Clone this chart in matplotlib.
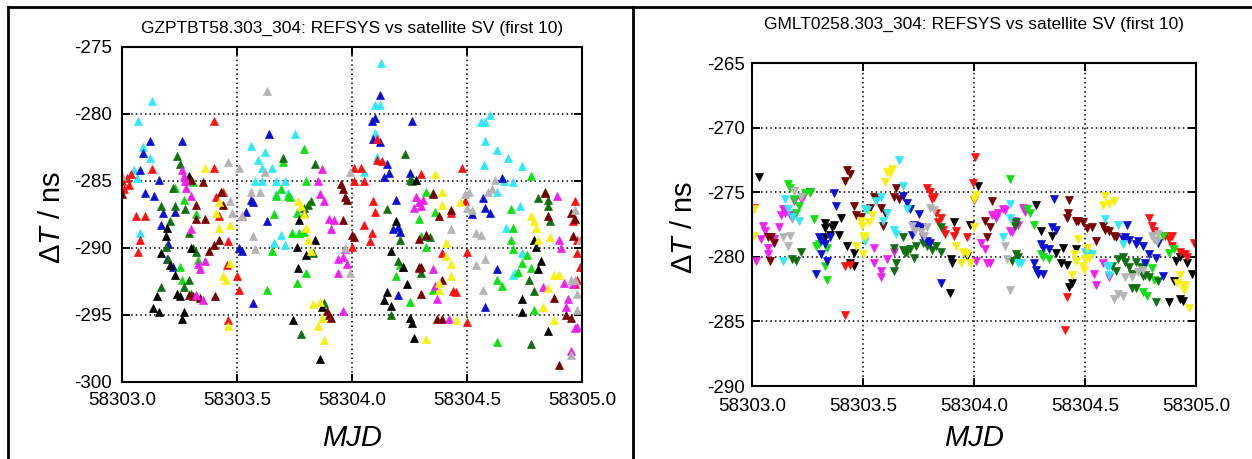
import matplotlib
matplotlib.use("Agg")
import matplotlib.pyplot as plt
from matplotlib import ticker
from matplotlib.lines import Line2D

plt.rcParams["font.family"] = ["Liberation Sans", "DejaVu Sans"]
plt.rcParams["mathtext.fontset"] = "custom"
plt.rcParams["mathtext.rm"] = "Liberation Sans"
plt.rcParams["mathtext.it"] = "Liberation Sans:italic"

MJD0 = 58303.0  # time values below are days since MJD0

# ---------------- GZPTBT58 (left panel), REFSYS per satellite ----------------
gz_cyan_t = [0.13, 0.07, 0.09, 0.12, 0.05, 0.065, 0.08, 0.56, 0.59, 0.62, 0.61, 0.65, 0.58, 0.61, 0.67,
             0.75, 0.71, 0.72, 0.67, 0.69, 0.66, 0.71, 1.11, 1.10, 1.12, 1.125, 1.10, 1.05, 1.56, 1.58,
             1.60, 1.58, 1.63, 1.68, 1.575, 1.74, 1.66, 1.70, 1.63, 1.67, 1.73, 1.70, 1.71, 1.74]
gz_cyan_y = [-279.0, -280.5, -282.5, -283.3, -284.2, -284.8, -288.9, -282.4, -283.4, -282.8, -284.0, -284.0,
             -285.0, -285.0, -285.0, -281.5, -285.0, -285.9, -286.0, -289.0, -289.6, -289.8, -283.2, -279.3,
             -279.3, -276.2, -281.4, -284.3, -280.6, -280.6, -280.1, -282.0, -282.7, -283.3, -283.8, -283.9,
             -285.0, -285.1, -285.8, -288.5, -286.9, -292.0, -291.9, -290.4]

gz_blue_t = [0.08, 0.09, 0.12, 0.10, 0.14, 0.16, 0.18, 0.17, 0.20, 0.195, 0.22, 0.26, 0.23, 0.51, 0.52,
             0.57, 0.54, 0.56, 0.57, 0.63, 0.64, 1.085, 1.10, 1.09, 1.12, 1.12, 1.15, 1.16, 1.14, 1.26,
             1.25, 1.18, 1.20, 1.21, 1.20, 1.19, 1.52, 1.58, 1.60, 1.63, 1.58, 1.65, 1.57]
gz_blue_y = [-284.2, -282.9, -282.0, -285.9, -286.1, -284.9, -287.4, -288.3, -289.7, -290.8, -291.4, -282.0,
             -287.3, -290.0, -290.2, -294.1, -287.3, -286.4, -286.6, -288.0, -281.5, -280.5, -280.3, -281.9,
             -278.6, -282.1, -283.7, -284.4, -284.7, -280.5, -284.4, -288.6, -288.4, -288.8, -293.5, -286.4,
             -287.5, -287.0, -287.4, -291.6, -294.4, -284.8, -286.3]

gz_red_t = [0.0, 0.02, 0.03, 0.04, 0.01, 0.06, 0.10, 0.08, 0.07, 0.13, 0.40, 0.40, 0.41, 0.42, 0.44,
            0.46, 0.455, 0.50, 0.51, 0.52, 0.46, 1.01, 1.04, 1.01, 1.05, 1.00, 1.05, 1.085, 1.08, 1.09,
            1.10, 1.11, 1.13, 1.11, 1.30, 1.48, 1.49, 1.50, 1.50, 1.43, 1.39, 1.44, 1.45, 1.97, 1.98,
            1.99, 1.98, 1.97, 1.98, 1.96]
gz_red_y = [-285.0, -284.8, -285.3, -284.5, -285.6, -287.6, -287.6, -289.4, -290.3, -284.1, -280.5, -284.0,
            -286.2, -287.6, -285.8, -289.5, -291.3, -292.1, -293.1, -287.6, -295.4, -284.0, -284.0, -285.0,
            -285.0, -289.9, -288.3, -288.9, -289.5, -286.5, -287.3, -283.4, -283.5, -281.9, -284.5, -284.0,
            -286.5, -290.3, -295.5, -287.4, -290.4, -293.2, -293.3, -286.5, -289.4, -291.4, -292.4, -292.7,
            -290.4, -288.0]

gz_lime_t = [0.23, 0.27, 0.25, 0.26, 0.31, 0.32, 0.33, 0.63, 0.66, 0.67, 0.69, 0.72, 0.73, 0.70, 0.74,
             0.76, 0.77, 0.79, 0.79, 0.80, 0.76, 0.65, 0.80, 1.19, 1.21, 1.29, 1.30, 1.32, 1.32, 1.25,
             1.36, 1.35, 1.63, 1.63, 1.65, 1.69, 1.70, 1.70, 1.76, 1.74, 1.78, 1.78, 1.69, 1.79, 1.72]
gz_lime_y = [-285.5, -286.4, -291.4, -292.4, -285.1, -287.5, -290.9, -293.1, -287.5, -286.1, -285.6, -286.1,
             -286.2, -283.6, -288.9, -287.4, -288.9, -288.8, -282.6, -285.0, -292.6, -290.2, -291.9, -292.1,
             -291.3, -287.8, -289.1, -289.9, -285.8, -294.0, -287.3, -293.1, -297.0, -292.4, -292.8, -289.4,
             -290.1, -288.5, -290.5, -291.1, -291.5, -284.6, -287.1, -294.6, -291.8]

gz_dkgreen_t = [0.24, 0.25, 0.22, 0.23, 0.21, 0.17, 0.19, 0.20, 0.17, 0.275, 0.29, 0.31, 0.32, 0.29, 0.27,
                0.30, 0.70, 0.79, 0.81, 0.82, 0.84, 0.83, 0.78, 0.88, 0.79, 1.15, 1.23, 1.25, 1.26, 1.21,
                1.22, 1.20, 1.17, 1.29, 1.30, 1.32, 1.34, 1.35, 1.77, 1.79, 1.81, 1.84, 1.85, 1.86, 1.78,
                1.85]
gz_dkgreen_y = [-283.1, -283.7, -285.5, -286.9, -288.0, -286.9, -289.9, -290.8, -292.9, -287.1, -288.9,
                -290.0, -290.3, -292.4, -292.9, -293.4, -283.3, -287.0, -286.8, -286.5, -283.7, -290.4,
                -296.4, -294.1, -287.4, -287.1, -283.0, -284.9, -285.0, -289.4, -291.4, -291.0, -295.0,
                -291.4, -291.9, -289.1, -289.2, -285.9, -292.4, -293.2, -286.3, -285.8, -286.4, -288.0,
                -297.2, -286.9]

gz_black_t = [0.15, 0.135, 0.16, 0.17, 0.19, 0.195, 0.21, 0.23, 0.24, 0.25, 0.26, 0.27, 0.29, 0.30, 0.765,
              0.745, 0.77, 0.76, 0.84, 0.86, 0.87, 0.80, 1.17, 1.14, 1.15, 1.17, 1.19, 1.22, 1.24, 1.25,
              1.26, 1.27, 1.28, 1.79, 1.80, 1.82, 1.74, 1.74, 1.85, 1.81]
gz_black_y = [-293.6, -294.5, -294.8, -290.4, -289.1, -288.5, -291.3, -292.0, -293.4, -293.6, -295.3, -294.8,
              -284.6, -290.0, -291.5, -295.4, -287.9, -289.9, -289.4, -298.3, -294.4, -290.5, -290.2, -293.9,
              -293.3, -294.3, -288.0, -291.4, -292.7, -295.2, -295.6, -296.7, -284.9, -289.4, -289.9, -291.0,
              -293.8, -294.8, -296.2, -291.6]

gz_dkred_t = [0.0, 0.30, 0.32, 0.35, 0.36, 0.32, 0.29, 0.31, 0.34, 0.405, 0.38, 0.40, 0.43, 0.44, 0.42,
              0.95, 0.96, 0.97, 0.98, 0.96, 1.00, 1.01, 0.90, 0.89, 0.91, 1.29, 1.32, 1.30, 1.29, 1.30,
              1.35, 1.38, 1.39, 1.37, 1.39, 1.43, 1.95, 1.96, 1.97, 1.90, 1.93, 1.88, 1.95, 1.84, 1.85]
gz_dkred_y = [-286.0, -284.9, -286.8, -285.1, -287.8, -287.8, -293.5, -293.6, -293.7, -293.6, -290.2, -289.8,
              -285.8, -286.8, -289.4, -285.2, -285.6, -286.2, -286.4, -287.9, -289.0, -289.2, -295.0, -294.7,
              -295.2, -289.3, -289.0, -293.4, -291.5, -291.4, -286.0, -287.6, -292.4, -295.3, -295.3, -287.2,
              -287.4, -289.1, -287.8, -298.7, -295.0, -293.7, -295.2, -285.9, -287.6]

gz_magenta_t = [0.26, 0.27, 0.275, 0.28, 0.30, 0.30, 0.33, 0.34, 0.36, 0.35, 0.32, 0.87, 0.85, 0.86, 0.88,
                0.90, 0.91, 0.92, 0.94, 0.96, 0.98, 0.97, 0.94, 0.96, 1.28, 1.29, 1.27, 1.31, 1.30, 1.35,
                1.36, 1.37, 1.42, 1.89, 1.90, 1.91, 1.96, 1.94, 1.93, 1.97, 1.98, 1.95, 1.83, 1.92]
gz_magenta_y = [-284.2, -284.6, -285.0, -285.5, -286.1, -288.6, -291.2, -291.6, -291.0, -293.9, -293.5,
                -284.1, -285.0, -286.0, -286.5, -287.8, -288.6, -287.9, -290.8, -290.7, -291.2, -290.1,
                -291.9, -294.7, -286.2, -286.6, -287.0, -286.4, -286.9, -291.6, -292.8, -293.8, -295.3,
                -286.1, -289.4, -290.0, -292.7, -293.8, -294.4, -296.0, -295.9, -297.7, -292.9, -292.6]

gz_yellow_t = [0.36, 0.41, 0.42, 0.42, 0.44, 0.45, 0.46, 0.47, 0.47, 0.765, 0.78, 0.79, 0.80, 0.81, 0.82,
               0.83, 0.85, 0.87, 0.88, 0.86, 1.36, 1.39, 1.39, 1.41, 1.41, 1.43, 1.43, 1.38, 1.38, 1.32,
               1.45, 1.47, 1.78, 1.79, 1.80, 1.81, 1.86, 1.88, 1.90, 1.85, 1.83, 1.88]
gz_yellow_y = [-284.0, -287.4, -288.5, -286.6, -292.1, -292.4, -295.8, -291.1, -288.3, -286.5, -286.9,
               -287.5, -288.5, -289.4, -290.2, -294.2, -295.8, -295.2, -296.9, -294.0, -284.5, -285.8,
               -286.8, -289.6, -290.6, -291.2, -292.1, -292.6, -293.1, -296.8, -295.4, -286.6, -287.6,
               -288.0, -288.5, -289.4, -289.2, -292.0, -292.0, -293.0, -294.4, -295.4]

gz_gray_t = [0.46, 0.51, 0.47, 0.48, 0.52, 0.56, 0.60, 0.57, 0.58, 0.63, 0.62, 0.97, 0.99, 0.99, 1.43,
             1.49, 1.51, 1.52, 1.54, 1.56, 1.50, 1.54, 1.57, 1.58, 1.59, 1.61, 1.62, 1.95, 1.97, 1.98,
             1.99, 1.98, 1.95, 1.97, 0.0]
gz_gray_y = [-283.6, -284.0, -286.5, -287.4, -287.6, -285.8, -285.8, -289.1, -290.1, -278.3, -284.3, -290.0,
             -284.3, -291.9, -288.6, -286.0, -285.8, -287.2, -288.9, -289.0, -287.0, -291.3, -293.1, -290.8,
             -285.8, -285.6, -284.9, -292.4, -292.4, -293.4, -289.4, -294.6, -298.0, -287.2, -284.6]

# ---------------- GMLT0258 (right panel), REFSYS per satellite ----------------
gm_black_t = [0.03, 0.26, 0.33, 0.33, 0.36, 0.37, 0.40, 0.39, 0.35, 0.33, 0.43, 0.46, 0.44, 0.46, 0.89,
              0.91, 0.895, 0.90, 0.97, 0.98, 1.02, 1.28, 1.30, 1.35, 1.37, 1.39, 1.42, 1.44, 1.43, 1.40,
              1.46, 1.88, 1.93, 1.94, 1.90, 1.91, 1.96, 1.98, 1.93]
gm_black_y = [-273.8, -275.0, -277.4, -277.8, -277.7, -277.5, -277.0, -278.3, -278.3, -278.5, -279.2, -279.7,
              -280.5, -280.7, -282.8, -277.3, -280.2, -280.5, -279.9, -277.5, -274.5, -276.0, -278.0, -278.4,
              -279.7, -280.5, -280.6, -282.0, -282.3, -279.3, -279.4, -283.5, -283.3, -283.4, -281.9, -280.3,
              -280.5, -281.3, -280.0]

gm_magenta_t = [0.02, 0.05, 0.06, 0.04, 0.07, 0.07, 0.10, 0.12, 0.13, 0.14, 0.15, 0.17, 0.18, 0.19, 0.22,
                0.23, 0.55, 0.55, 0.61, 0.58, 0.58, 0.64, 1.01, 1.03, 1.05, 1.06, 1.07, 1.08, 1.10, 1.11,
                1.13, 1.14, 1.16, 1.17, 1.18, 1.22, 1.23, 1.20, 1.54, 1.55, 1.58, 1.61]
gm_magenta_y = [-280.3, -277.6, -278.0, -278.6, -279.3, -279.8, -278.6, -277.7, -276.8, -276.3, -276.6,
                -276.8, -277.0, -275.7, -275.5, -275.4, -279.3, -280.5, -280.2, -281.1, -281.6, -279.6,
                -280.3, -278.9, -279.4, -280.5, -280.5, -276.8, -277.0, -276.6, -276.3, -276.4, -278.0,
                -278.1, -277.2, -276.2, -276.5, -277.5, -281.3, -282.2, -280.5, -281.6]

gm_dkred_t = [0.07, 0.085, 0.10, 0.08, 0.43, 0.42, 0.44, 0.46, 0.47, 0.49, 0.53, 0.55, 0.56, 0.58, 0.60,
              0.59, 0.64, 0.65, 0.66, 1.08, 1.05, 1.07, 1.06, 1.43, 1.42, 1.425, 1.46, 1.47, 1.49, 1.51,
              1.53, 1.55, 1.58, 1.59, 1.61, 1.63, 1.64]
gm_dkred_y = [-278.5, -278.5, -278.9, -280.3, -273.3, -274.1, -273.6, -276.1, -276.8, -276.9, -276.2, -275.4,
              -275.6, -276.2, -276.6, -277.6, -275.4, -274.7, -275.5, -275.7, -277.2, -277.7, -278.5, -275.6,
              -277.0, -276.6, -277.2, -277.2, -277.3, -277.8, -277.7, -278.8, -277.6, -277.9, -278.0, -278.4,
              -278.5]

gm_red_t = [0.01, 0.44, 0.42, 0.42, 0.79, 0.81, 0.80, 0.82, 0.83, 0.85, 0.84, 0.86, 0.87, 0.92, 0.91,
            0.97, 1.00, 0.995, 1.005, 1.41, 1.42, 1.79, 1.80, 1.81, 1.86, 1.88, 1.89, 1.93, 1.95, 1.96,
            1.99, 1.89]
gm_red_y = [-276.2, -280.6, -280.7, -284.5, -274.7, -275.5, -275.0, -275.4, -276.6, -277.0, -277.3, -277.9,
            -278.2, -278.0, -278.4, -278.5, -275.6, -274.3, -272.3, -285.7, -283.1, -277.0, -277.6, -278.0,
            -278.4, -278.6, -279.2, -279.6, -279.8, -280.0, -278.9, -278.4]

gm_lime_t = [0.16, 0.17, 0.19, 0.21, 0.24, 0.26, 0.20, 0.28, 0.29, 0.34, 0.33, 0.34, 0.30, 1.16, 1.24,
             1.25, 1.27, 1.30, 1.31, 1.34, 1.77, 1.80, 1.76, 1.78, 1.81, 1.85, 1.88, 1.90]
gm_lime_y = [-274.4, -274.7, -275.5, -276.1, -275.1, -275.0, -276.6, -277.1, -279.2, -279.3, -280.7, -281.8,
             -279.0, -274.0, -276.3, -276.6, -277.5, -279.8, -280.0, -280.2, -280.6, -280.9, -282.7, -283.0,
             -281.8, -278.4, -279.7, -279.4]

gm_dkgreen_t = [0.22, 0.18, 0.20, 0.64, 0.65, 0.64, 0.68, 0.69, 0.70, 0.71, 0.73, 0.74, 0.77, 0.79, 0.81,
                0.83, 0.85, 0.85, 0.68, 1.19, 1.185, 1.19, 1.20, 1.17, 1.62, 1.64, 1.65, 1.67, 1.68, 1.70,
                1.71, 1.73, 1.75, 1.76, 1.77, 1.79, 1.82, 1.83, 1.71, 1.73]
gm_dkgreen_y = [-279.6, -280.2, -280.3, -281.1, -280.5, -279.3, -279.5, -279.7, -279.6, -279.4, -280.1,
                -279.2, -278.9, -279.2, -279.5, -279.2, -279.6, -277.7, -278.5, -277.3, -277.6, -279.8,
                -280.0, -280.3, -280.7, -281.1, -280.2, -280.0, -280.4, -280.8, -281.3, -280.4, -280.8,
                -281.5, -281.4, -281.6, -283.5, -281.9, -282.4, -282.4]

gm_blue_t = [0.37, 0.38, 0.30, 0.31, 0.33, 0.35, 0.31, 0.34, 0.29, 0.68, 0.70, 0.71, 0.75, 0.73, 0.74,
             0.76, 0.77, 0.79, 0.80, 0.85, 0.72, 1.36, 1.37, 1.35, 1.30, 1.31, 1.34, 1.27, 1.28, 1.29,
             1.31, 1.67, 1.68, 1.69, 1.70, 1.73, 1.74, 1.76, 1.77, 1.79, 1.82, 1.85, 1.83]
gm_blue_y = [-275.1, -276.1, -278.5, -278.8, -279.0, -278.5, -279.8, -280.3, -281.3, -275.3, -275.8, -276.3,
             -276.7, -277.5, -277.6, -277.7, -278.5, -278.8, -278.9, -282.0, -278.3, -275.5, -277.9, -277.7,
             -279.0, -279.3, -279.4, -280.5, -281.0, -281.3, -281.3, -278.6, -278.5, -277.5, -278.7, -279.0,
             -278.8, -279.2, -280.5, -279.8, -280.1, -281.5, -278.9]

gm_cyan_t = [0.15, 0.16, 0.18, 0.21, 0.14, 0.51, 0.52, 0.56, 0.58, 0.59, 0.61, 0.68, 0.70, 0.64, 0.65,
             0.51, 0.66, 1.13, 1.16, 1.20, 1.21, 1.16, 1.50, 1.51, 1.53, 1.59, 1.65, 1.67, 1.60, 1.61,
             1.61]
gm_cyan_y = [-275.5, -276.3, -276.9, -277.2, -280.3, -276.3, -276.4, -275.7, -275.4, -277.2, -276.6, -274.5,
             -276.3, -277.9, -278.2, -278.8, -272.5, -278.5, -277.0, -280.5, -280.5, -275.9, -279.6, -279.7,
             -279.8, -277.1, -277.5, -279.0, -280.7, -280.7, -281.4]

gm_yellow_t = [0.01, 0.01, 0.61, 0.62, 0.63, 0.60, 0.50, 0.51, 0.50, 0.47, 0.49, 0.495, 0.525, 0.54, 0.92,
               0.95, 0.97, 0.98, 0.94, 1.00, 1.01, 1.00, 1.59, 1.58, 1.61, 1.63, 1.45, 1.46, 1.47, 1.50,
               1.52, 1.49, 1.495, 1.51, 1.44, 1.93, 1.94, 1.945, 1.915, 1.97, 1.95]
gm_yellow_y = [-276.3, -278.4, -273.4, -273.5, -273.2, -274.2, -278.4, -278.5, -279.8, -279.2, -277.2,
               -277.6, -277.3, -276.8, -279.2, -279.6, -279.8, -280.5, -280.5, -275.5, -275.2, -277.7,
               -275.3, -276.0, -275.9, -275.7, -279.8, -280.3, -278.6, -280.2, -280.1, -280.7, -281.0,
               -279.3, -281.4, -281.4, -282.2, -282.6, -282.0, -284.0, -282.2]

gm_gray_t = [0.19, 0.22, 0.14, 0.16, 0.17, 0.76, 0.775, 0.79, 0.80, 0.82, 0.735, 0.72, 1.14, 1.16, 1.15,
             1.63, 1.65, 1.67, 1.68, 1.71, 1.74, 1.76, 1.80, 1.81, 1.825, 1.83]
gm_gray_y = [-274.9, -275.4, -278.5, -279.2, -278.4, -278.1, -278.4, -277.7, -276.2, -276.4, -278.0, -277.6,
             -279.2, -282.6, -280.2, -283.3, -282.9, -283.0, -281.6, -281.6, -281.2, -281.0, -278.4, -278.7,
             -278.8, -278.2]

COLORS = {
    "red": "#ff1010", "lime": "#10e010", "blue": "#0a10d0", "magenta": "#f020f0", "cyan": "#30e8f8",
    "yellow": "#f8f010", "black": "#000000", "dkred": "#780000", "gray": "#b4b4b4", "dkgreen": "#107010",
}

gz_series = [
    ("cyan", gz_cyan_t, gz_cyan_y), ("blue", gz_blue_t, gz_blue_y), ("red", gz_red_t, gz_red_y),
    ("lime", gz_lime_t, gz_lime_y), ("dkgreen", gz_dkgreen_t, gz_dkgreen_y),
    ("black", gz_black_t, gz_black_y), ("dkred", gz_dkred_t, gz_dkred_y),
    ("magenta", gz_magenta_t, gz_magenta_y), ("yellow", gz_yellow_t, gz_yellow_y),
    ("gray", gz_gray_t, gz_gray_y),
]
gm_series = [
    ("black", gm_black_t, gm_black_y), ("magenta", gm_magenta_t, gm_magenta_y),
    ("dkred", gm_dkred_t, gm_dkred_y), ("red", gm_red_t, gm_red_y), ("lime", gm_lime_t, gm_lime_y),
    ("dkgreen", gm_dkgreen_t, gm_dkgreen_y), ("blue", gm_blue_t, gm_blue_y),
    ("cyan", gm_cyan_t, gm_cyan_y), ("yellow", gm_yellow_t, gm_yellow_y), ("gray", gm_gray_t, gm_gray_y),
]


def style_axes(ax, ylim, xpad, ypad):
    ax.set_xlim(MJD0, MJD0 + 2.0)
    ax.set_ylim(*ylim)
    ax.xaxis.set_major_locator(ticker.MultipleLocator(0.5))
    ax.yaxis.set_major_locator(ticker.MultipleLocator(5))
    ax.xaxis.set_major_formatter(ticker.FormatStrFormatter("%.1f"))
    ax.yaxis.set_major_formatter(ticker.FormatStrFormatter("%d"))
    ax.tick_params(direction="in", length=6, width=1.4, top=True, right=True, labelsize=13.5)
    ax.tick_params(axis="x", pad=xpad)
    ax.tick_params(axis="y", pad=ypad)
    ax.grid(True, color="black", linestyle=(0, (1, 2)), linewidth=1.1)
    ax.set_axisbelow(True)
    for s in ax.spines.values():
        s.set_linewidth(1.5)
    ax.set_ylabel(r"$\Delta T$ / ns", fontsize=21)
    ax.yaxis.label.set_va("center")
    ax.set_xlabel("MJD", fontsize=21, style="italic")
    ax.xaxis.label.set_va("center")


W, H = 1252, 459
fig = plt.figure(figsize=(W / 100, H / 100), dpi=100)

ax1 = fig.add_axes([122 / W, 1 - 382 / H, 460 / W, 335 / H])
for c, t, y in gz_series:
    ax1.plot([MJD0 + v for v in t], y, linestyle="none", marker="^", ms=5.8,
             color=COLORS[c], mec=COLORS[c], mew=0.5)
style_axes(ax1, (-300, -275), 7.2, 7)
ax1.yaxis.set_label_coords(-0.152, 0.49)
ax1.xaxis.set_label_coords(0.5, -0.167)
ax1.set_title("GZPTBT58.303_304: REFSYS vs satellite SV (first 10)", fontsize=12.5,
              y=1.054, pad=0, va="center")

ax2 = fig.add_axes([752 / W, 1 - 386 / H, 444 / W, 323 / H])
for c, t, y in gm_series:
    ax2.plot([MJD0 + v for v in t], y, linestyle="none", marker="v", ms=5.8,
             color=COLORS[c], mec=COLORS[c], mew=0.5)
style_axes(ax2, (-290, -265), 8.5, 5)
ax2.yaxis.set_label_coords(-0.153, 0.49)
ax2.xaxis.set_label_coords(0.5, -0.161)
ax2.set_title("GMLT0258.303_304: REFSYS vs satellite SV (first 10)", fontsize=12.5,
              y=1.118, pad=0, va="center")

# table-cell style frame around the two panels
for xs, ys in [([8, 8], [7, H]), ([633, 633], [7, H]), ([8, W], [7, 7])]:
    fig.add_artist(Line2D([x / W for x in xs], [1 - y / H for y in ys],
                          transform=fig.transFigure, color="black", lw=2))

fig.savefig("out.png", dpi=100)
